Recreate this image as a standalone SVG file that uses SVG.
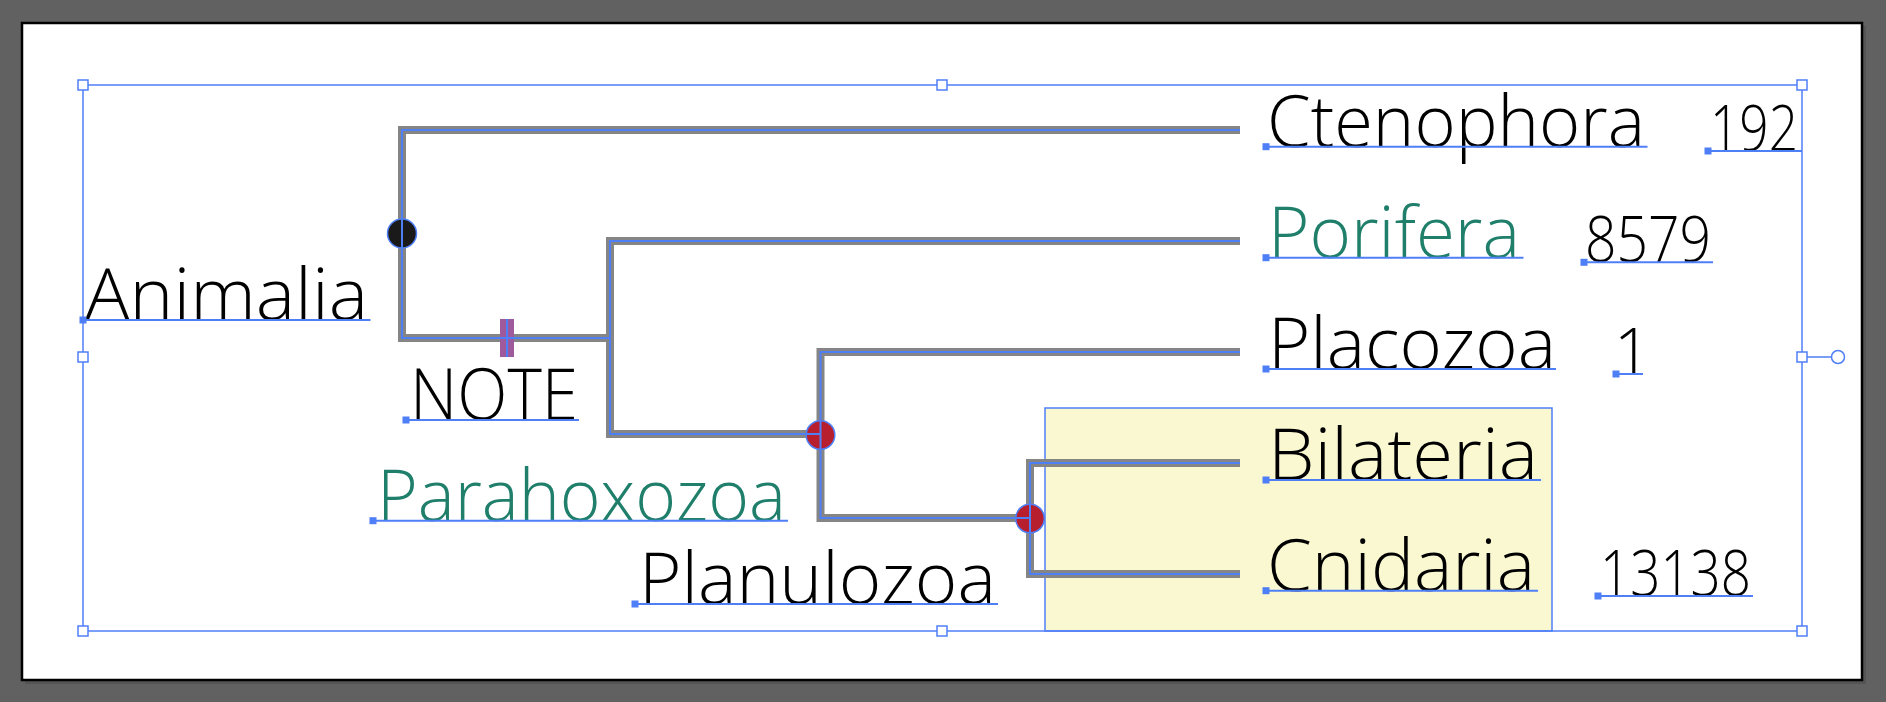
<svg xmlns="http://www.w3.org/2000/svg" width="1886" height="702" viewBox="0 0 1886 702">
<defs>
<style>
.lbl{font-family:"Open Sans","Lato","DejaVu Sans",sans-serif;font-weight:300;font-size:71px;fill:#000}
.num{font-family:"Open Sans","Lato","DejaVu Sans",sans-serif;font-weight:300;font-size:64px;fill:#000}
.green{fill:#1f7f6b}
.ul{stroke:#4f7ff7;stroke-width:2;fill:none}
.anc{fill:#4f7ff7}
.gray{stroke:#858585;stroke-width:8;fill:none;stroke-linejoin:miter}
.sel{stroke:#4f7ff7;stroke-width:2;fill:none}
.hdl{fill:#fff;stroke:#4f7ff7;stroke-width:1.5}
.nodec{stroke:#4f7ff7;stroke-width:1.5}
</style>
</defs>
<rect x="0" y="0" width="1886" height="702" fill="#616161"/>
<rect x="25" y="26" width="1841" height="658" fill="#555"/>
<rect x="22" y="23" width="1840" height="657" fill="#fff" stroke="#000" stroke-width="2.5"/>

<g id="highlight-box">
<rect x="1045" y="408" width="507" height="223" fill="#faf8d0" stroke="#4f7ff7" stroke-width="1.5"/>
</g>

<g id="connectors">
<path class="gray" d="M1240,130 H402 V338 H610"/>
<path class="gray" d="M1240,241 H610 V434 H820.5"/>
<path class="gray" d="M1240,352 H820.5 V518 H1030"/>
<path class="gray" d="M1240,463 H1030 V574 H1240"/>
</g>

<g id="note-mark"><rect x="500" y="319" width="14" height="38" fill="#9e5a9a"/></g>
<g id="node-animalia"><circle cx="402" cy="233.5" r="14.5" fill="#1a1a1a" class="nodec"/></g>
<g id="node-parahoxozoa"><circle cx="820.5" cy="435" r="14.3" fill="#b81f2e" class="nodec"/></g>
<g id="node-planulozoa"><circle cx="1030" cy="518.5" r="14.3" fill="#b81f2e" class="nodec"/></g>

<g id="connector-selection">
<path class="sel" d="M1240,130 H402 V338 H610"/>
<path class="sel" d="M1240,241 H610 V434 H820.5"/>
<path class="sel" d="M1240,352 H820.5 V518 H1030"/>
<path class="sel" d="M1240,463 H1030 V574 H1240"/>
<line x1="507" y1="319" x2="507" y2="357" class="sel"/>
</g>

<g id="label-animalia"><text class="lbl" x="85" y="320" textLength="283" lengthAdjust="spacingAndGlyphs">Animalia</text><line class="ul" x1="83" y1="320" x2="370.5" y2="320"/><rect class="anc" x="79.5" y="316.5" width="7" height="7"/></g>
<g id="label-note"><text class="lbl" x="410" y="420" textLength="168" lengthAdjust="spacingAndGlyphs">NOTE</text><line class="ul" x1="406" y1="420" x2="579" y2="420"/><rect class="anc" x="402.5" y="416.5" width="7" height="7"/></g>
<g id="label-parahoxozoa"><text class="lbl green" x="377" y="520.7" textLength="409" lengthAdjust="spacingAndGlyphs">Parahoxozoa</text><line class="ul" x1="373" y1="520.7" x2="788" y2="520.7"/><rect class="anc" x="369.5" y="517.2" width="7" height="7"/></g>
<g id="label-planulozoa"><text class="lbl" x="639" y="604" textLength="357" lengthAdjust="spacingAndGlyphs">Planulozoa</text><line class="ul" x1="635" y1="604" x2="998" y2="604"/><rect class="anc" x="631.5" y="600.5" width="7" height="7"/></g>
<g id="label-ctenophora"><text class="lbl" x="1267" y="146.7" textLength="378" lengthAdjust="spacingAndGlyphs">Ctenophora</text><line class="ul" x1="1266" y1="146.7" x2="1647.5" y2="146.7"/><rect class="anc" x="1262.5" y="143.2" width="7" height="7"/></g>
<g id="label-porifera"><text class="lbl green" x="1268" y="257.7" textLength="252" lengthAdjust="spacingAndGlyphs">Porifera</text><line class="ul" x1="1266" y1="257.7" x2="1523.5" y2="257.7"/><rect class="anc" x="1262.5" y="254.2" width="7" height="7"/></g>
<g id="label-placozoa"><text class="lbl" x="1268" y="369" textLength="288" lengthAdjust="spacingAndGlyphs">Placozoa</text><line class="ul" x1="1266" y1="369" x2="1556" y2="369"/><rect class="anc" x="1262.5" y="365.5" width="7" height="7"/></g>
<g id="label-bilateria"><text class="lbl" x="1268" y="480" textLength="270" lengthAdjust="spacingAndGlyphs">Bilateria</text><line class="ul" x1="1266" y1="480" x2="1541" y2="480"/><rect class="anc" x="1262.5" y="476.5" width="7" height="7"/></g>
<g id="label-cnidaria"><text class="lbl" x="1267" y="590.7" textLength="268" lengthAdjust="spacingAndGlyphs">Cnidaria</text><line class="ul" x1="1266" y1="590.7" x2="1538" y2="590.7"/><rect class="anc" x="1262.5" y="587.2" width="7" height="7"/></g>
<g id="count-ctenophora"><text class="num" x="1710" y="151" textLength="88" lengthAdjust="spacingAndGlyphs">192</text><line class="ul" x1="1708" y1="151" x2="1802" y2="151"/><rect class="anc" x="1704.5" y="147.5" width="7" height="7"/></g>
<g id="count-porifera"><text class="num" x="1585" y="262.3" textLength="126" lengthAdjust="spacingAndGlyphs">8579</text><line class="ul" x1="1584" y1="262.3" x2="1713" y2="262.3"/><rect class="anc" x="1580.5" y="258.8" width="7" height="7"/></g>
<g id="count-placozoa"><text class="num" x="1614" y="374">1</text><line class="ul" x1="1616" y1="374" x2="1643" y2="374"/><rect class="anc" x="1612.5" y="370.5" width="7" height="7"/></g>
<g id="count-cnidaria"><text class="num" x="1600" y="596" textLength="151" lengthAdjust="spacingAndGlyphs">13138</text><line class="ul" x1="1598" y1="596" x2="1753" y2="596"/><rect class="anc" x="1594.5" y="592.5" width="7" height="7"/></g>

<g id="selection-frame">
<rect x="83" y="85" width="1719" height="546" fill="none" stroke="#4f7ff7" stroke-width="1.5"/>
<line x1="1802" y1="357" x2="1832" y2="357" stroke="#4f7ff7" stroke-width="1.5"/>
<circle cx="1838" cy="357" r="6.5" class="hdl"/>
<rect class="hdl" x="78" y="80" width="10" height="10"/>
<rect class="hdl" x="937" y="80" width="10" height="10"/>
<rect class="hdl" x="1797" y="80" width="10" height="10"/>
<rect class="hdl" x="78" y="352" width="10" height="10"/>
<rect class="hdl" x="1797" y="352" width="10" height="10"/>
<rect class="hdl" x="78" y="626" width="10" height="10"/>
<rect class="hdl" x="937" y="626" width="10" height="10"/>
<rect class="hdl" x="1797" y="626" width="10" height="10"/>
</g>
</svg>
